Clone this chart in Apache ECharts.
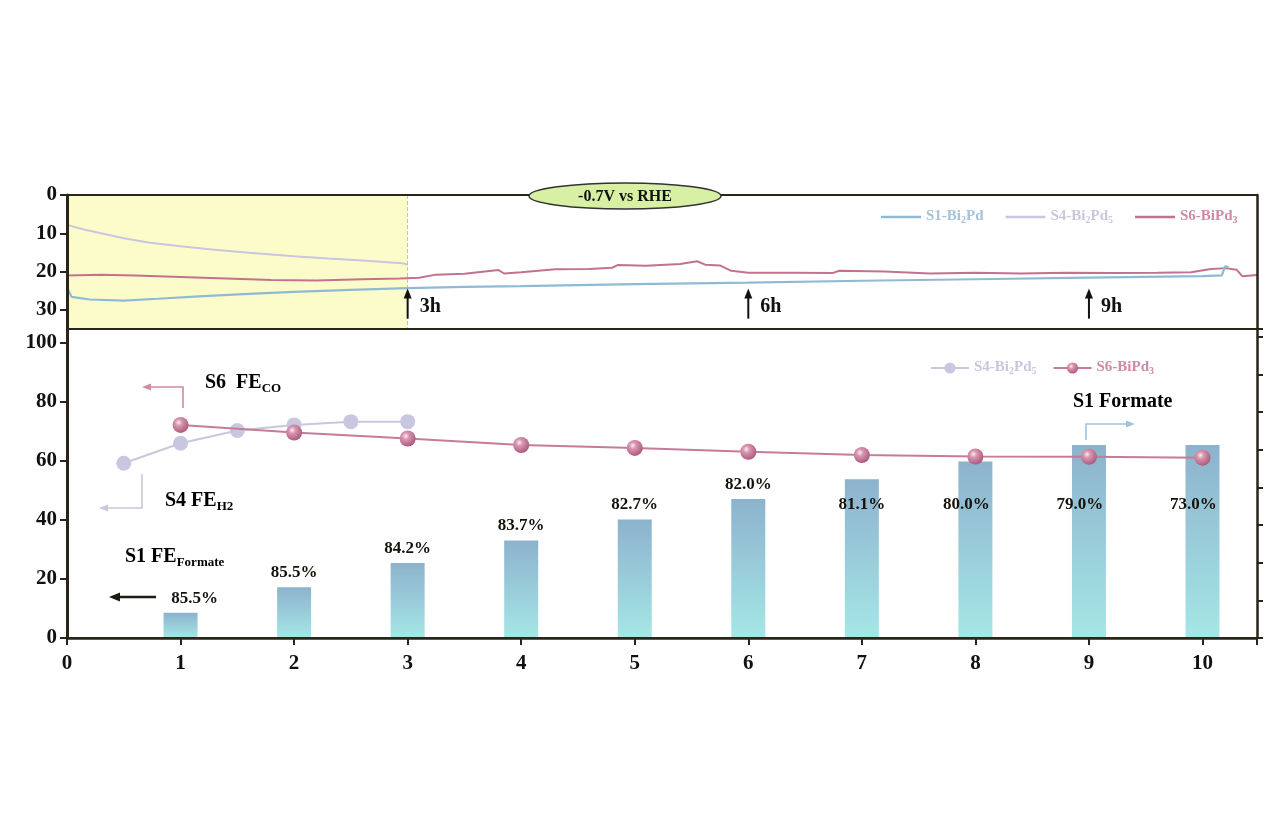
<!DOCTYPE html>
<html>
<head>
<meta charset="utf-8">
<script src="https://cdn.jsdelivr.net/npm/echarts@6/dist/echarts.min.js"></script>
<style>
  html, body { margin: 0; padding: 0; background: #ffffff; }
  #chart { width: 1280px; height: 823px; }
</style>
</head>
<body>
<div id="chart"></div>
<script>
// ---------------- DATA ----------------
// Top panel: chronoamperometry traces (time in h, value on inverted axis)
const tS1 = [0, 0.04, 0.2, 0.5, 0.8, 1.2, 1.6, 2.0, 2.5, 3.0, 3.5, 4.0, 5.0, 6.0, 7.0, 8.0, 9.0, 9.5, 10.0, 10.17, 10.2, 10.23];
const vS1 = [24.0, 26.6, 27.3, 27.6, 27.1, 26.4, 25.8, 25.3, 24.8, 24.3, 24.0, 23.8, 23.3, 22.9, 22.4, 22.0, 21.6, 21.4, 21.2, 21.0, 18.6, 18.8];

const tS4 = [0, 0.15, 0.3, 0.5, 0.73, 1.0, 1.3, 1.6, 2.0, 2.3, 2.6, 2.95, 3.0];
const vS4 = [7.8, 9.0, 10.0, 11.3, 12.5, 13.4, 14.3, 15.1, 16.0, 16.6, 17.1, 17.8, 18.2];

const tS6 = [0, 0.3, 0.6, 1.0, 1.4, 1.8, 2.2, 2.6, 2.93, 3.1, 3.25, 3.5, 3.8, 3.85, 4.0, 4.3, 4.6, 4.8, 4.85, 5.1, 5.4, 5.55, 5.62, 5.75, 5.85, 6.0, 6.4, 6.74, 6.8, 7.2, 7.6, 8.0, 8.4, 8.8, 9.2, 9.6, 9.9, 10.06, 10.2, 10.3, 10.35, 10.48];
const vS6 = [21.0, 20.8, 21.0, 21.4, 21.8, 22.2, 22.3, 22.0, 21.8, 21.6, 20.8, 20.6, 19.6, 20.5, 20.2, 19.4, 19.3, 19.0, 18.3, 18.5, 18.0, 17.3, 18.2, 18.4, 19.8, 20.3, 20.3, 20.4, 19.8, 20.0, 20.5, 20.3, 20.5, 20.3, 20.4, 20.3, 20.2, 19.4, 19.1, 19.5, 21.2, 20.9];

const markHours = [3, 6, 9];
const markHourLabels = ['3h', '6h', '9h'];

// Bottom panel
const hoursS4FE = [0.5, 1, 1.5, 2, 2.5, 3];
const feS4 = [59.2, 66.0, 70.3, 72.2, 73.3, 73.3];
const hoursS6FE = [1, 2, 3, 4, 5, 6, 7, 8, 9, 10];
const feS6 = [72.2, 69.6, 67.6, 65.4, 64.4, 63.1, 62.0, 61.5, 61.4, 61.1];
const hoursFormate = [1, 2, 3, 4, 5, 6, 7, 8, 9, 10];
const formateAmount = [0.67, 1.35, 1.99, 2.59, 3.15, 3.69, 4.22, 4.69, 5.13, 5.13]; // right axis units
const formateFELabels = ['85.5%', '85.5%', '84.2%', '83.7%', '82.7%', '82.0%', '81.1%', '80.0%', '79.0%', '73.0%'];

const xTicks = [0, 1, 2, 3, 4, 5, 6, 7, 8, 9, 10];

// ---------------- STYLE ----------------
const SERIF = '"Liberation Serif", "DejaVu Serif", serif';
const FRAME = '#2a2519';
const C_S1 = '#8fbad6', C_S1_TXT = '#a2c4da';
const C_S4 = '#c9c6de', C_S4_TXT = '#c9c7dd';
const C_S6 = '#c2728f', C_S6_TXT = '#cf8aa5';
const XMAX = 10.48;
const INSIDE_LABEL_LEVEL = 3.55; // right-axis level where labels of tall bars sit

const zip = (a, b) => a.map((v, i) => [v, b[i]]);

const chart = echarts.init(document.getElementById('chart'));

const legendNames = {
  'S1-Bi2Pd': '{c1|S1-Bi}{s1|2}{c1|Pd}',
  'S4-Bi2Pd5': '{c4|S4-Bi}{s4|2}{c4|Pd}{s4|5}',
  'S6-BiPd3': '{c6|S6-BiPd}{s6|3}',
  'S4-Bi2Pd5 FE': '{c4|S4-Bi}{s4|2}{c4|Pd}{s4|5}',
  'S6-BiPd3 FE': '{c6|S6-BiPd}{s6|3}'
};
function mainTok(color, size) {
  return { color: color, fontFamily: SERIF, fontWeight: 'bold', fontSize: size, lineHeight: 16, verticalAlign: 'top' };
}
function subTok(color, size) {
  return { color: color, fontFamily: SERIF, fontWeight: 'bold', fontSize: size, lineHeight: 16, verticalAlign: 'bottom', padding: [5, 0, 0, 0] };
}
const legendRich = {
  c1: mainTok(C_S1_TXT, 15), s1: subTok(C_S1_TXT, 10),
  c4: mainTok(C_S4_TXT, 15), s4: subTok(C_S4_TXT, 10),
  c6: mainTok(C_S6_TXT, 15), s6: subTok(C_S6_TXT, 10)
};

const sphere = {
  type: 'radial', x: 0.38, y: 0.35, r: 0.7,
  colorStops: [
    { offset: 0, color: '#fbeef3' },
    { offset: 0.3, color: '#d996b0' },
    { offset: 1, color: '#a9557a' }
  ]
};

const option = {
  backgroundColor: '#ffffff',
  animation: false,
  grid: [
    { left: 67, top: 195, width: 1190, height: 134 },
    { left: 67, top: 329, width: 1190, height: 309 }
  ],
  legend: [
    {
      data: ['S1-Bi2Pd', 'S4-Bi2Pd5', 'S6-BiPd3'],
      left: 876, top: 204, icon: 'rect', itemWidth: 40, itemHeight: 2.5, itemGap: 22,
      formatter: n => legendNames[n], textStyle: { rich: legendRich }
    },
    {
      data: ['S4-Bi2Pd5 FE', 'S6-BiPd3 FE'],
      left: 925, top: 355, itemWidth: 38, itemHeight: 14, itemGap: 16,
      formatter: n => legendNames[n], textStyle: { rich: legendRich }
    }
  ],
  xAxis: [
    { gridIndex: 0, type: 'value', min: 0, max: XMAX, position: 'bottom',
      axisLine: { show: true, lineStyle: { color: FRAME, width: 2 } },
      axisTick: { show: false }, axisLabel: { show: false }, splitLine: { show: false }, z: 10 },
    { gridIndex: 0, type: 'value', min: 0, max: XMAX, position: 'top',
      axisLine: { show: true, lineStyle: { color: FRAME, width: 2 } },
      axisTick: { show: false }, axisLabel: { show: false }, splitLine: { show: false }, z: 10 },
    { gridIndex: 1, type: 'value', min: 0, max: XMAX, interval: 1, position: 'bottom',
      axisLine: { show: true, onZero: false, lineStyle: { color: FRAME, width: 2.5 } },
      axisTick: { show: true, inside: false, length: 7, lineStyle: { color: FRAME, width: 2 } },
      axisLabel: { show: true, showMaxLabel: false, margin: 15, color: '#111', fontFamily: SERIF, fontWeight: 'bold', fontSize: 21,
        formatter: v => (xTicks.indexOf(v) >= 0 ? String(v) : '') },
      splitLine: { show: false }, z: 10 },
    { gridIndex: 1, type: 'value', min: 0, max: XMAX, interval: 1, position: 'top',
      axisLine: { show: true, lineStyle: { color: FRAME, width: 2 } },
      axisTick: { show: true, inside: true, length: 7, lineStyle: { color: FRAME, width: 2 } },
      axisLabel: { show: false }, splitLine: { show: false }, z: 10 }
  ],
  yAxis: [
    { gridIndex: 0, type: 'value', inverse: true, min: 0, max: 35, interval: 10,
      axisLine: { show: true, onZero: false, lineStyle: { color: FRAME, width: 3 } },
      axisTick: { show: true, length: 7, lineStyle: { color: FRAME, width: 2 } },
      axisLabel: { showMaxLabel: false, margin: 10, color: '#111', fontFamily: SERIF, fontWeight: 'bold', fontSize: 21 },
      splitLine: { show: false }, z: 10 },
    { gridIndex: 0, type: 'value', position: 'right', min: 0, max: 35,
      axisLine: { show: true, onZero: false, lineStyle: { color: FRAME, width: 2.5 } },
      axisTick: { show: false }, axisLabel: { show: false }, splitLine: { show: false }, z: 10 },
    { gridIndex: 1, type: 'value', min: 0, max: 104.7, interval: 20,
      axisLine: { show: true, onZero: false, lineStyle: { color: FRAME, width: 3 } },
      axisTick: { show: true, length: 7, lineStyle: { color: FRAME, width: 2 } },
      axisLabel: { showMaxLabel: false, margin: 10, color: '#111', fontFamily: SERIF, fontWeight: 'bold', fontSize: 21 },
      splitLine: { show: false }, z: 10 },
    { gridIndex: 1, type: 'value', position: 'right', min: 0, max: 8.21, interval: 1,
      axisLine: { show: true, onZero: false, lineStyle: { color: FRAME, width: 2.5 } },
      axisTick: { show: true, inside: false, length: 6, lineStyle: { color: FRAME, width: 2 } },
      axisLabel: { show: false }, splitLine: { show: false }, z: 10 }
  ],
  series: [
    // ---- top panel ----
    { name: 'S4-Bi2Pd5', type: 'line', xAxisIndex: 0, yAxisIndex: 0, symbol: 'none',
      data: zip(tS4, vS4), lineStyle: { color: C_S4, width: 2 }, itemStyle: { color: C_S4 },
      markArea: { silent: true, itemStyle: { color: '#fcfccb' }, data: [[{ xAxis: 0 }, { xAxis: markHours[0] }]] },
      markLine: { silent: true, symbol: 'none', label: { show: false },
        lineStyle: { color: '#c9c98e', type: 'dashed', width: 1 }, data: [{ xAxis: markHours[0] }] },
      z: 3 },
    { name: 'S6-BiPd3', type: 'line', xAxisIndex: 0, yAxisIndex: 0, symbol: 'none',
      data: zip(tS6, vS6), lineStyle: { color: C_S6, width: 2 }, itemStyle: { color: C_S6 }, z: 4 },
    { name: 'S1-Bi2Pd', type: 'line', xAxisIndex: 0, yAxisIndex: 0, symbol: 'none',
      data: zip(tS1, vS1), lineStyle: { color: C_S1, width: 2.2 }, itemStyle: { color: C_S1 }, z: 5 },
    // ---- bottom panel ----
    { name: 'S1 Formate', type: 'bar', xAxisIndex: 2, yAxisIndex: 3, barWidth: 34,
      data: zip(hoursFormate, formateAmount),
      itemStyle: { color: { type: 'linear', x: 0, y: 0, x2: 0, y2: 1,
        colorStops: [{ offset: 0, color: '#8db2cd' }, { offset: 1, color: '#a5e7e6' }] } },
      z: 2 },
    { name: 'FE labels', type: 'scatter', xAxisIndex: 2, yAxisIndex: 3, symbolSize: 0, silent: true,
      itemStyle: { opacity: 1 },
      data: hoursFormate.map((h, i) => {
        const tall = i >= 6;
        const off = i === 0 ? [14, 0] : (i >= 7 ? [-9, 0] : [0, 0]);
        return {
          value: [h, tall ? INSIDE_LABEL_LEVEL : formateAmount[i]],
          label: { show: true, position: tall ? 'inside' : 'top', distance: 6, offset: off,
            formatter: formateFELabels[i], color: '#15120c', opacity: 1,
            fontFamily: SERIF, fontWeight: 'bold', fontSize: 17 }
        };
      }),
      z: 6 },
    { name: 'S4-Bi2Pd5 FE', type: 'line', xAxisIndex: 2, yAxisIndex: 2,
      data: zip(hoursS4FE, feS4), symbol: 'circle', symbolSize: 15, showSymbol: true,
      lineStyle: { color: C_S4, width: 2 }, itemStyle: { color: '#c8c7df' }, z: 7 },
    { name: 'S6-BiPd3 FE', type: 'line', xAxisIndex: 2, yAxisIndex: 2,
      data: zip(hoursS6FE, feS6), symbol: 'circle', symbolSize: 16, showSymbol: true,
      lineStyle: { color: '#c77b99', width: 2 }, itemStyle: { color: sphere }, z: 8 }
  ]
};

chart.setOption(option);

// ---------------- ANNOTATIONS ----------------
function arrowHead(x, y, dir, color, len, half) {
  let pts;
  if (dir === 'left') pts = [[x, y], [x + len, y - half], [x + len, y + half]];
  else if (dir === 'right') pts = [[x, y], [x - len, y - half], [x - len, y + half]];
  else if (dir === 'up') pts = [[x, y], [x - half, y + len], [x + half, y + len]];
  else pts = [[x, y], [x - half, y - len], [x + half, y - len]];
  return { type: 'polygon', shape: { points: pts }, style: { fill: color }, z: 100 };
}
function polyline(pts, color, w) {
  return { type: 'polyline', shape: { points: pts }, style: { stroke: color, lineWidth: w, fill: null }, z: 100 };
}
function richText(x, y, text, rich) {
  return { type: 'text', x: x, y: y, z: 100, style: { text: text, rich: rich, verticalAlign: 'middle' } };
}
function ann(color, size, subSize) {
  return {
    m: { color: color, fontFamily: SERIF, fontWeight: 'bold', fontSize: size, lineHeight: 22, verticalAlign: 'top' },
    s: { color: color, fontFamily: SERIF, fontWeight: 'bold', fontSize: subSize, lineHeight: 22, verticalAlign: 'bottom', padding: [7, 0, 0, 0] }
  };
}

const g = [];
// ellipse label at top
g.push({ type: 'ellipse', shape: { cx: 625, cy: 196, rx: 96, ry: 13 },
  style: { fill: '#d7f0a3', stroke: '#333', lineWidth: 1.5 }, z: 100 });
g.push({ type: 'text', x: 625, y: 197, z: 101,
  style: { text: '-0.7V vs RHE', fill: '#111', font: 'bold 16px ' + SERIF, align: 'center', verticalAlign: 'middle' } });

// hour arrows in top panel
markHours.forEach((h, i) => {
  const p0 = chart.convertToPixel({ xAxisIndex: 0, yAxisIndex: 0 }, [h, 32.3]);
  const p1 = chart.convertToPixel({ xAxisIndex: 0, yAxisIndex: 0 }, [h, 24.4]);
  g.push(polyline([[p0[0], p0[1]], [p0[0], p1[1] + 6]], '#111', 2));
  g.push(arrowHead(p0[0], p1[1], 'up', '#111', 10, 4));
  g.push({ type: 'text', x: p0[0] + 12, y: (p0[1] + p1[1]) / 2 + 3, z: 100,
    style: { text: markHourLabels[i], fill: '#111', font: 'bold 20px ' + SERIF, verticalAlign: 'middle' } });
});

// S6 FE_CO
g.push(richText(205, 384, '{m|S6  FE}{s|CO}', ann(C_S6_TXT, 20, 13)));
g.push(polyline([[183, 408], [183, 387], [150, 387]], C_S6_TXT, 1.6));
g.push(arrowHead(142, 387, 'left', C_S6_TXT, 9, 3.5));
// S4 FE_H2
g.push(richText(165, 502, '{m|S4 FE}{s|H2}', ann(C_S4_TXT, 20, 13)));
g.push(polyline([[142, 474], [142, 508], [107, 508]], C_S4_TXT, 1.6));
g.push(arrowHead(99, 508, 'left', C_S4_TXT, 9, 3.5));
// S1 FE_Formate
g.push(richText(125, 558, '{m|S1 FE}{s|Formate}', ann('#1e1a14', 20, 13)));
g.push(polyline([[156, 597], [118, 597]], '#1e1a14', 2.5));
g.push(arrowHead(109, 597, 'left', '#1e1a14', 11, 4.5));
// S1 Formate (right axis)
g.push(richText(1073, 403, '{m|S1 Formate}', ann(C_S1_TXT, 20, 13)));
g.push(polyline([[1086, 440], [1086, 424], [1126, 424]], C_S1_TXT, 1.6));
g.push(arrowHead(1135, 424, 'right', C_S1_TXT, 9, 3.5));

chart.setOption({ graphic: g });
</script>
</body>
</html>
